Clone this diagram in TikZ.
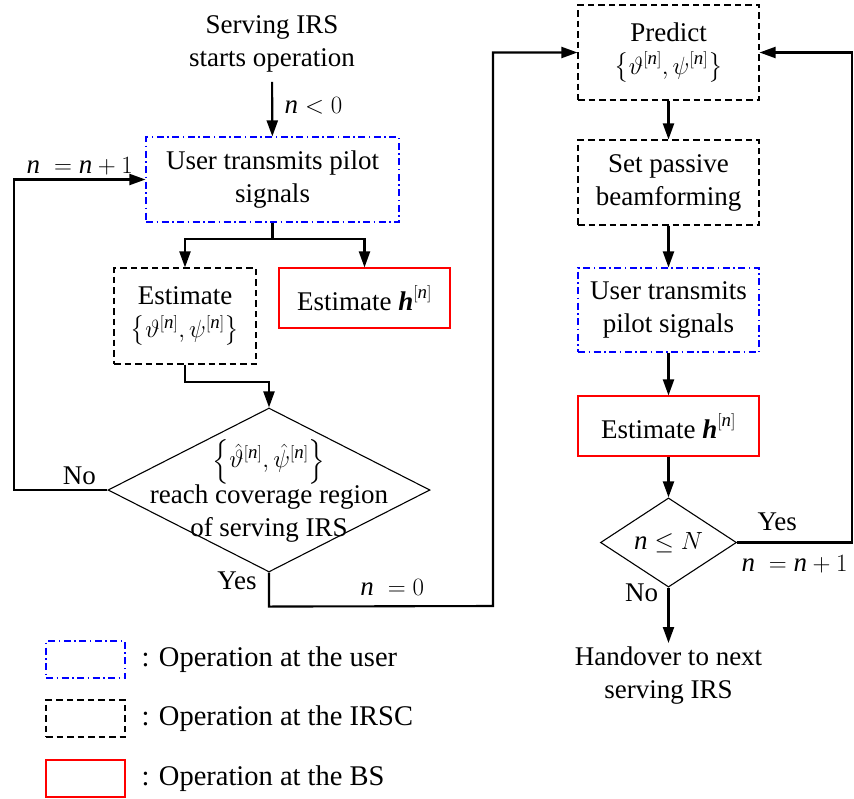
\documentclass[tikz,border=0pt]{standalone}
\usepackage{amsmath}
\usepackage{fontspec}
\setmainfont{Liberation Serif}
\usetikzlibrary{arrows.meta}
\usetikzlibrary{shapes.geometric}
\newcommand{\nit}{\text{\normalfont\itshape n}}
\newcommand{\hbit}{\text{\normalfont\bfseries\itshape h}}
\newcommand{\angles}{\left\{\vartheta^{[\nit]},\psi^{[\nit]}\right\}}

\tikzset{
every node/.style={font=\fontsize{27}{33}\selectfont},
userbox/.style={draw=blue, line width=1.1pt, dash pattern=on 7pt off 3.5pt on 1.5pt off 3.5pt, align=center, inner sep=0pt},
irscbox/.style={draw=black, line width=1.1pt, dash pattern=on 6.5pt off 4pt, align=center, inner sep=0pt},
bsbox/.style={draw=red, line width=1.1pt, align=center, inner sep=0pt},
decision/.style={draw, diamond, line width=1.1pt, inner sep=0pt},
flow/.style={-{Triangle[length=16pt,width=11pt]}, line width=2.1pt},
link/.style={line width=2.1pt}
}

\begin{document}
\begin{tikzpicture}[x=1pt, y=-1pt]
\useasboundingbox (0,0) rectangle (854,798);
% left branch
\node[align=center] (start) at (272,44) {Serving IRS\\starts operation};
\node[userbox, minimum width=253pt, minimum height=85pt] (user1) at (272.5,179.5) {User transmits pilot\\signals};
\node[irscbox, minimum width=142pt, minimum height=96pt] (angle1) at (185,316) {Estimate\\$\angles$};
\node[bsbox, minimum width=171pt, minimum height=60pt] (chan1) at (364.5,298) {Estimate $\hbit^{[\nit]}$};
\node[decision, minimum width=322pt, minimum height=164pt] (check1) at (269,490) {};
\node[align=center, inner sep=0pt] (check1txt) at (269,491) {$\left\{\hat{\vartheta}^{[\nit]},\hat{\psi}^{[\nit]}\right\}$\\reach coverage region\\of serving IRS};
% right branch
\node[irscbox, minimum width=181pt, minimum height=95pt] (predict) at (668.5,52.5) {Predict\\$\angles$};
\node[irscbox, minimum width=181pt, minimum height=85pt] (setbf) at (668.5,182.5) {Set passive\\beamforming};
\node[userbox, minimum width=181pt, minimum height=84pt] (user2) at (668.5,310) {User transmits\\pilot signals};
\node[bsbox, minimum width=181pt, minimum height=60pt] (chan2) at (668.5,426) {Estimate $\hbit^{[\nit]}$};
\node[decision, minimum width=136pt, minimum height=75pt] (check2) at (668.5,542.5) {$\nit\le N$};
\node[align=center, anchor=north] (handover) at (668.5,643) {Handover to next\\serving IRS};

% connectors
\draw[flow, shorten <=6pt] (start) -- (user1) node[midway, right, xshift=8pt] {$\nit<0$};
\draw[link] (user1.south) -- ++(0,16) coordinate (split);
\draw[flow] (split) -| (angle1.north);
\draw[flow] (split) -| (chan1.north);
\draw[flow] (angle1.south) -- ++(0,17) -| (check1.north);
\draw[flow] (check1.west) -- (14,490) node[pos=0.3, above, yshift=1pt] {No} |- (user1.west)
  node[pos=0.75, above] {$\nit\;=\nit+1$};
\draw[flow] (check1.south) -- ++(0,34) node[pos=0.25, left, xshift=-8pt] {Yes} -- (493,606) node[pos=0.55, above, yshift=6pt] {$\nit\;=0$} |- (predict.west);
\foreach \a/\b in {predict/setbf, setbf/user2, user2/chan2, chan2/check2}
  \draw[flow] (\a) -- (\b);
\draw[flow] (check2.east) -- (852,542.5) node[pos=0.35, above, yshift=7pt] {Yes} node[pos=0.5, below, yshift=-9pt] {$\nit\;=\nit+1$} |- (predict.east);
\draw[flow] (check2.south) -- (handover.north) node[pos=0.1, left, xshift=-6pt] {No};

% legend
\foreach \s/\t/\y in {userbox/user/659.5, irscbox/IRSC/718.5, bsbox/BS/778.5} {
  \node[\s, minimum width=79pt, minimum height=37pt] (key\t) at (85.5,\y) {};
  \node[right, font=\fontsize{28.5}{33}\selectfont] (keytxt\t) at (138,\y) {: Operation at the \t};
}
\end{tikzpicture}
\end{document}
